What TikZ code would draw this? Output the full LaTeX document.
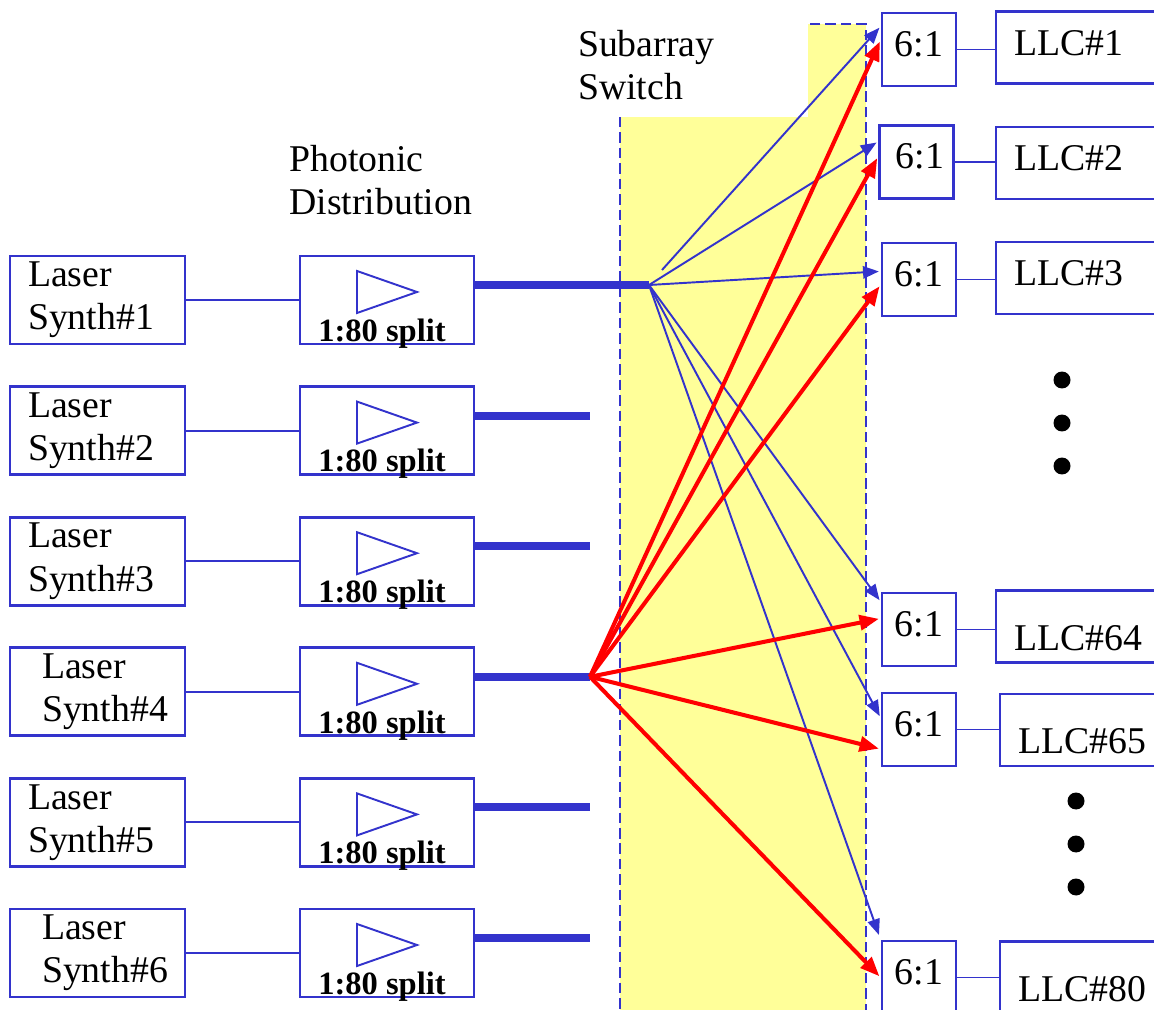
\documentclass[tikz,border=0pt]{standalone}
\usepackage{fontspec}
\setmainfont{Liberation Serif}
\usetikzlibrary{arrows.meta, positioning, calc}
\definecolor{LinkBlue}{HTML}{3333CC}
\definecolor{LinkRed}{HTML}{FF0000}
\definecolor{SwitchYellow}{HTML}{FFFF99}
\tikzset{
    % Box styles
    synth/.style={
        rectangle,
        draw=LinkBlue,
        line width=1.6pt,
        minimum width=3.5cm,
        minimum height=1.76cm,
        text width=3.1cm,
        inner xsep=0.2cm,
        align=left
    },
    splitter/.style={
        rectangle,
        draw=LinkBlue,
        line width=1.6pt,
        minimum width=3.48cm,
        minimum height=1.76cm
    },
    mux/.style={
        rectangle,
        draw=LinkBlue,
        line width=1.6pt,
        minimum width=1.48cm,
        minimum height=1.46cm,
        inner sep=0pt,
        text height=14.5pt,
        text depth=6.8pt
    },
    llc/.style={
        rectangle,
        draw=LinkBlue,
        line width=1.6pt,
        minimum width=3.5cm,
        minimum height=1.44cm,
        text width=2.78cm,
        inner xsep=0.36cm,
        align=left,
        text height=14.5pt,
        text depth=5.5pt
    },
    lowtext/.style={text height=27pt, text depth=0pt},
    amp/.style={draw=LinkBlue, line width=1.1pt},
    ratio/.style={font=\fontsize{18.5}{20}\selectfont\bfseries, inner sep=0pt},
    % Line styles
    link/.style={draw=LinkBlue, line width=1.1pt},
    feed/.style={draw=LinkBlue, line width=4.5pt},
    bluearrow/.style={
        -{Triangle[length=9pt, width=7pt]},
        draw=LinkBlue,
        line width=1.1pt,
        shorten >=1pt
    },
    redarrow/.style={
        -{Triangle[length=11pt, width=8.5pt]},
        draw=LinkRed,
        line width=2.3pt,
        shorten >=1pt
    }
}

\begin{document}
\begin{tikzpicture}[x=0.02cm, y=-0.02cm, font=\fontsize{21.5}{24.5}\selectfont]
    \useasboundingbox (0,0) rectangle (1154,1010);
    \clip (0,0) rectangle (1154,1010);

    % Subarray switch band
    \path[fill=SwitchYellow, draw=LinkBlue, line width=1.7pt, dash pattern=on 6pt off 2.8pt] (620,24) rectangle (866,1030);
    \node[fill=white, minimum width=4.96cm, minimum height=2.08cm, text width=4.24cm, inner xsep=0.36cm, align=left] (switch) at (684,65) {Subarray\\Switch};
    \node[anchor=north west, inner sep=0pt, align=left] (photonic) at (289,145) {Photonic\\Distribution};

    % Laser synths and 1:80 splitters
    \foreach \i/\ind/\fx in {1/0.16/649, 2/0.16/590, 3/0.16/590, 4/0.44/590, 5/0.16/590, 6/0.44/590} {
        \node[synth] (laser\i) at (97.5,{300+(\i-1)*130.6}) {\hspace*{\ind cm}Laser\\\hspace*{\ind cm}Synth\#\i};
        \node[splitter] (split\i) at (387,{300+(\i-1)*130.6}) {};
        \node[ratio, anchor=base] (ratio\i) at ($(split\i.south)+(-5,-4)$) {1:80 split};
        \coordinate (feed\i) at (\fx,{285+(\i-1)*130.6});
        \draw[link] (laser\i) -- (split\i);
        \draw[amp] ($(split\i.center)+(-30,-29)$) -- ++(0,42) -- ++(60,-21) -- cycle;
        \draw[feed] (split\i.east |- feed\i) -- (feed\i);
    }

    % 6:1 multiplexers and LLCs
    \node[mux] (mux1) at (919,49.5) {6:1};
    \node[mux, inner xsep=0.06cm, text width=1.1cm, align=right] (mux2) at (916.5,162) {6:1};
    \node[mux] (mux3) at (919,279.5) {6:1};
    \node[mux] (mux64) at (919,629.5) {6:1};
    \node[mux] (mux65) at (919,729.5) {6:1};
    \node[mux] (mux80) at (919,977.5) {6:1};
    \node[llc] (llc1) at (1083.5,47.5) {LLC\#1};
    \node[llc] (llc2) at (1083.5,163) {LLC\#2};
    \node[llc] (llc3) at (1083.5,278) {LLC\#3};
    \node[llc, lowtext] (llc64) at (1083.5,626.5) {LLC\#64};
    \node[llc, lowtext] (llc65) at (1087.5,730) {LLC\#65};
    \node[llc, lowtext] (llc80) at (1087.5,977.5) {LLC\#80};
    \foreach \n in {1,2,3,64,65,80}
        \draw[link] (mux\n.east) -- (mux\n.east -| llc\n.west);

    % Ellipsis dots
    \foreach \y in {380,423,466}
        \fill (1062,\y) circle (0.17cm);
    \foreach \y in {801,844,887}
        \fill (1076,\y) circle (0.17cm);

    % Switch connections
    \coordinate (fanA1) at ($(feed1)+(13,-15)$);
    \draw[bluearrow] (fanA1) -- (mux1.149);
    \draw[bluearrow] (feed1) -- (mux2.152);
    \draw[bluearrow] (feed1) -- (mux3.168);
    \draw[bluearrow] (feed1) -- (mux64.144);
    \draw[bluearrow] (feed1) -- (mux65.163);
    \draw[bluearrow, shorten >=2.8pt] (feed1) -- (mux80.north west);
    \draw[redarrow] (feed4) -- (mux1.166);
    \draw[redarrow] (feed4) -- (mux2.172);
    \draw[redarrow] (feed4) -- (mux3.188);
    \draw[redarrow] (feed4) -- (mux64.164);
    \draw[redarrow] (feed4) -- (mux65.207);
    \draw[redarrow] (feed4) -- (mux80.west);
\end{tikzpicture}
\end{document}
